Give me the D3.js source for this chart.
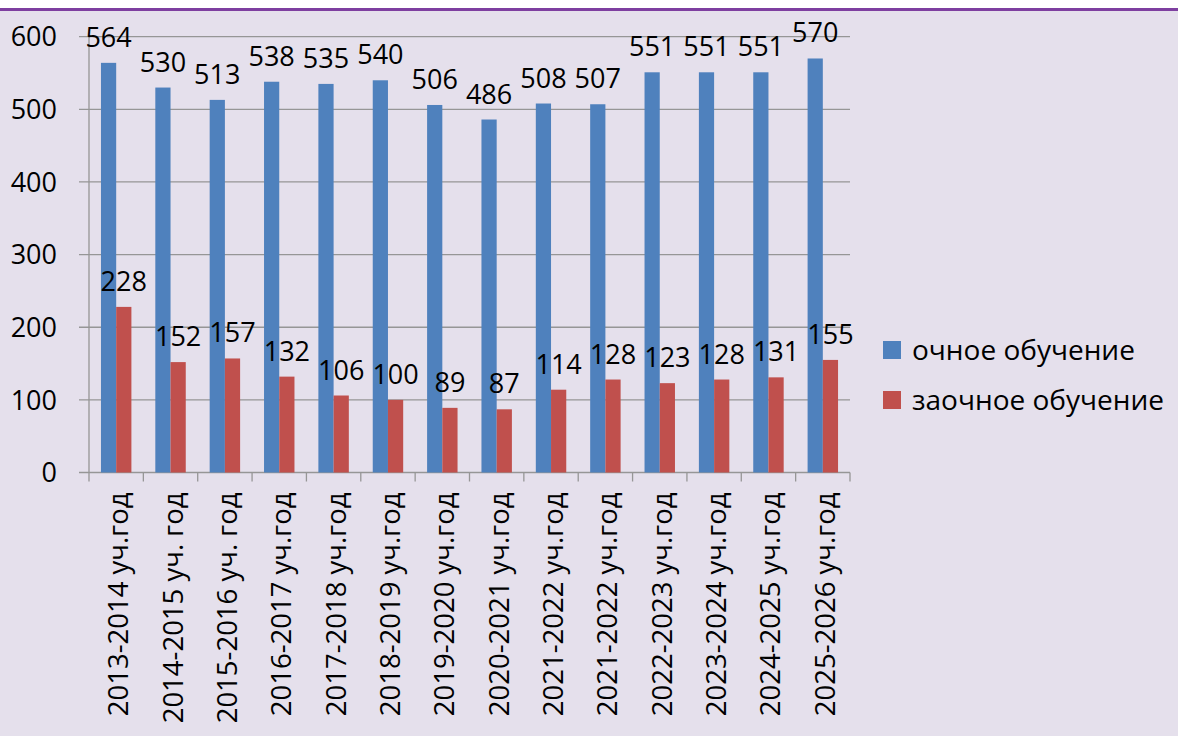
<!DOCTYPE html>
<html>
<head>
<meta charset="utf-8">
<script src="https://cdn.jsdelivr.net/npm/d3@7"></script>
<style>
    body { margin: 0; background: #fff; }
    #chart text { font-family: "Open Sans", sans-serif; fill: #000; }
</style>
</head>
<body>
<div id="chart"></div>
<script>
// data
let categories = ["2013-2014 уч.год", "2014-2015 уч. год", "2015-2016 уч. год", "2016-2017 уч.год",
    "2017-2018 уч.год", "2018-2019 уч.год", "2019-2020 уч.год", "2020-2021 уч.год", "2021-2022 уч.год",
    "2021-2022 уч.год", "2022-2023 уч.год", "2023-2024 уч.год", "2024-2025 уч.год", "2025-2026 уч.год"];
let fullTime = [564, 530, 513, 538, 535, 540, 506, 486, 508, 507, 551, 551, 551, 570];
let extramural = [228, 152, 157, 132, 106, 100, 89, 87, 114, 128, 123, 128, 131, 155];
let seriesNames = ["очное обучение", "заочное обучение"];
let seriesColors = ["#4f81bd", "#c0504d"];
let yTicks = [0, 100, 200, 300, 400, 500, 600];

let W = 1178, H = 736;
let svg = d3.select("#chart").append("svg")
    .attr("width", W).attr("height", H);

// background and the purple rule at the top
svg.append("rect").attr("x", 0).attr("y", 10).attr("width", W).attr("height", H - 10).attr("fill", "#e5e0ec");
svg.append("rect").attr("x", 0).attr("y", 8).attr("width", W).attr("height", 3).attr("fill", "#7e3fa0");

let x = d3.scaleBand().domain(d3.range(categories.length)).range([89, 850]).padding(0);
let y = d3.scaleLinear().domain([0, 600]).range([472.5, 36.7]);
let barW = x.bandwidth() * 0.28;

//gridlines + y labels
let g = svg.append("g");
g.selectAll(".grid").data(yTicks).enter().append("line")
    .attr("x1", 79).attr("x2", 850)
    .attr("y1", d => y(d)).attr("y2", d => y(d))
    .attr("stroke", "#969696").attr("stroke-width", 1.3);
g.selectAll(".ylab").data(yTicks).enter().append("text")
    .attr("x", 57).attr("y", d => y(d))
    .attr("dy", "0.36em")
    .attr("text-anchor", "end")
    .style("font-size", "27px")
    .text(d => d);

// y axis line and category ticks
g.append("line").attr("x1", 89).attr("x2", 89).attr("y1", y(600)).attr("y2", y(0))
    .attr("stroke", "#969696").attr("stroke-width", 1.3);
let xTicks = d3.range(categories.length + 1).map(i => 89 + i * x.step());
g.selectAll(".xt").data(xTicks).enter().append("line")
    .attr("x1", d => d).attr("x2", d => d)
    .attr("y1", y(0)).attr("y2", y(0) + 9)
    .attr("stroke", "#969696").attr("stroke-width", 1.3);

// bars
let series = [fullTime, extramural];
series.forEach(function(vals, s) {
    let off = x.bandwidth() / 2 - barW + s * barW;
    svg.selectAll(".bar" + s).data(vals).enter().append("rect")
        .attr("x", (d, i) => x(i) + off)
        .attr("y", d => y(d))
        .attr("width", barW)
        .attr("height", d => y(0) - y(d))
        .attr("fill", seriesColors[s]);
    svg.selectAll(".val" + s).data(vals).enter().append("text")
        .attr("x", (d, i) => x(i) + off + barW / 2)
        .attr("y", d => y(d) - 16)
        .attr("text-anchor", "middle")
        .style("font-size", "27px")
        .text(d => d);
});

// rotated category labels
svg.selectAll(".cat").data(categories).enter().append("text")
    .attr("transform", (d, i) => "translate(" + (x(i) + x.bandwidth() / 2 + 12) + "," + (y(0) + 20) + ") rotate(-90)")
    .attr("text-anchor", "end")
    .style("font-size", "27.5px")
    .text(d => d);

// legend
let leg = svg.selectAll(".leg").data(seriesNames).enter().append("g")
    .attr("transform", (d, i) => "translate(883," + (341 + i * 50) + ")");
leg.append("rect").attr("width", 18).attr("height", 18).attr("fill", (d, i) => seriesColors[i]);
leg.append("text").attr("x", 29).attr("y", 9).attr("dy", "0.36em")
    .style("font-size", "28px")
    .text(d => d);
</script>
</body>
</html>
